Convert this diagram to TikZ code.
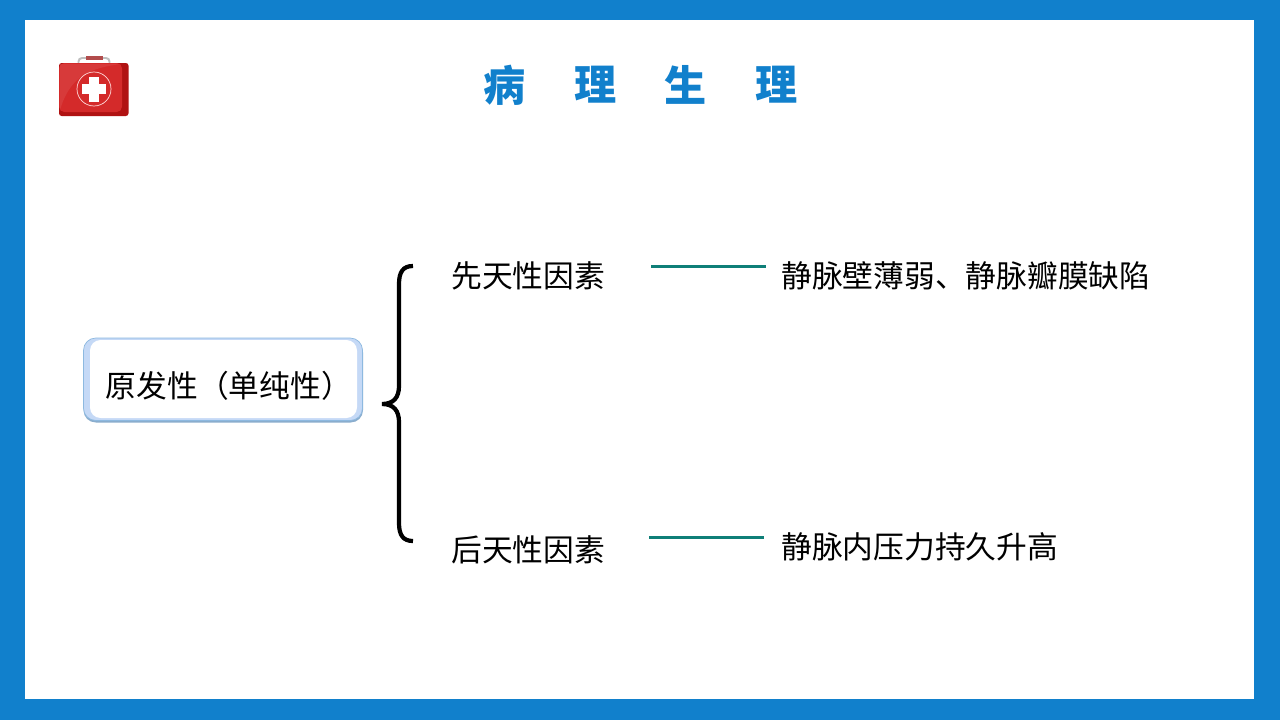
\documentclass[tikz,border=0pt]{standalone}
\usepackage{fontspec}
\setmainfont{Noto Sans CJK SC}
\definecolor{frameblue}{HTML}{1180CC}
\definecolor{linkteal}{HTML}{0F7F78}
\definecolor{boxedge}{HTML}{8DB9E0}
\definecolor{boxfill}{HTML}{C5D9F6}
\definecolor{kitred}{HTML}{D42A2A}
\definecolor{kitdark}{HTML}{B01212}
\tikzset{
  label/.style={inner sep=0pt,anchor=west,font=\fontsize{17.5pt}{20pt}\selectfont},
  heading/.style={inner sep=0pt,text=frameblue,font=\fontsize{24pt}{28pt}\selectfont\bfseries},
  link/.style={draw=linkteal,line width=2pt}
}
\begin{document}
\begin{tikzpicture}[x=0.02cm,y=-0.02cm]
    \useasboundingbox (0,0) rectangle (1280,720);
    \fill[frameblue] (0,0) rectangle (1280,720);
    \fill[white] (25,20) rectangle (1254,699);
    % kit
    \draw[gray!50,line width=1.1pt,rounded corners=2pt] (78.5,64) -- (78.5,58) -- (109.5,58) -- (109.5,64);
    \draw[red!40!gray,line width=1.8pt] (86,58) -- (103,58);
    \fill[kitdark,rounded corners=1.5pt] (59,63) rectangle (128.5,116);
    \fill[kitred,rounded corners=3pt] (59,63) rectangle (122,112);
    \fill[white,opacity=0.08] (60,64) -- (121,64) .. controls (90,68) and (70,76) .. (60,110) -- cycle;
    \draw[white!85!red,line width=0.4pt] (94,89) circle (17);
    \fill[white] (89,77) rectangle (99,102);
    \fill[white] (82,84) rectangle (106,94);
    \node[heading] (t1) at (505,85) {病};
    \node[heading] (t2) at (596,85) {理};
    \node[heading] (t3) at (686,85) {生};
    \node[heading] (t4) at (777,85) {理};
    % left box
    \draw[draw=none,fill=boxedge!80!gray,rounded corners=7pt] (83.5,340) rectangle (363,422.5);
    \draw[draw=boxedge,fill=boxfill,rounded corners=7pt] (83.5,338) rectangle (362.5,420.5);
    \fill[white,rounded corners=6pt] (90,340) rectangle (357,418);
    \node[label] (cause) at (105.5,385.5) {原发性（单纯性）};
    % brace
    \coordinate (bracetop) at (413,266);
    \coordinate (bracetip) at (382,404);
    \coordinate (bracebot) at (413,541);
    \draw[line width=2.4pt] (bracetop) .. controls (403,266) and (399,272) .. (399,284)
      -- (399,386) .. controls (399,397) and (394,404) .. (bracetip)
      .. controls (394,404) and (399,411) .. (399,422)
      -- (399,523) .. controls (399,535) and (403,541) .. (bracebot);
    \node[label] (inborn) at (451,275.5) {先天性因素};
    \node[label] (acquired) at (451,549.5) {后天性因素};
    \coordinate (a1) at (651,266.5);
    \coordinate (a2) at (766,266.5);
    \coordinate (b1) at (649,537.5);
    \coordinate (b2) at (764,537.5);
    \draw[link] (a1) -- (a2);
    \draw[link] (b1) -- (b2);
    \node[label] (wall) at (781,275.5) {静脉壁薄弱、静脉瓣膜缺陷};
    \node[label] (pressure) at (781,546.5) {静脉内压力持久升高};
  \end{tikzpicture}
\end{document}
